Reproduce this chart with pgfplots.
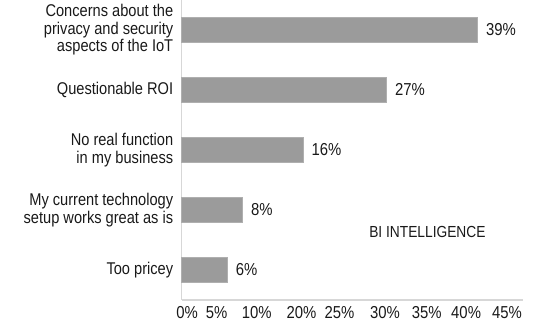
\documentclass[border=0pt]{standalone}
\usepackage{fontspec}
\setmainfont{Liberation Sans}[FakeStretch=0.86]
\usepackage{pgfplots}
\pgfplotsset{compat=1.18}
\definecolor{barfill}{RGB}{155,155,155}
\definecolor{baredge}{RGB}{175,175,175}
\definecolor{axisgray}{RGB}{215,215,215}
\definecolor{txt}{RGB}{25,25,25}
\begin{document}
\begin{tikzpicture}
\begin{axis}[
  at={(0,0)}, anchor=south west,
  scale only axis,
  width=341.3pt, height=300pt,
  xbar, bar width=25pt,
  xmin=0, xmax=45,
  ymin=-0.5, ymax=4.5,
  axis x line*=bottom, axis y line*=left,
  axis line style={axisgray, line width=1.4pt, -},
  major tick length=0pt,
  ytick={0,1,2,3,4},
  yticklabels={Too pricey,{My current technology\\setup works great as is},{No real function\\in my business},Questionable ROI,{Concerns about the\\privacy and security\\aspects of the IoT}},
  yticklabel style={align=right, font=\fontsize{17}{17.5}\selectfont, text=txt, xshift=-5pt},
  xtick={0.7,4.6,9.9,15.8,20.8,26.8,32.3,37.5,42.9},
  xticklabels={0\%,5\%,10\%,20\%,25\%,30\%,35\%,40\%,45\%},
  xticklabel style={font=\fontsize{17.3}{17.5}\selectfont, text=txt, yshift=-3pt},
  nodes near coords={\pgfmathprintnumber{\pgfplotspointmeta}\%},
  nodes near coords style={font=\fontsize{17.3}{17.5}\selectfont, text=txt, anchor=west, xshift=5pt},
  /pgf/number format/assume math mode=true,
  clip=false,
]
\addplot[fill=barfill, draw=baredge, line width=0.6pt] coordinates {(6,0) (8,1) (16,2) (27,3) (39,4)};
\node[font=\fontsize{16}{17}\selectfont, text=txt] at (axis cs:32.4,0.63) {BI INTELLIGENCE};
\end{axis}
\pgfresetboundingbox
\path (-181.7pt,-23pt) rectangle (356.3pt,300pt);
\end{tikzpicture}
\end{document}
